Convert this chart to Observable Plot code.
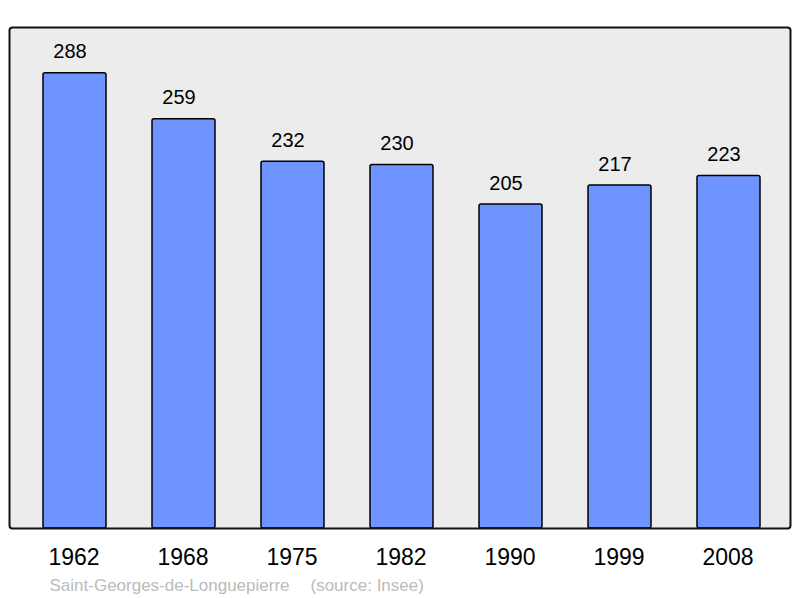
<!DOCTYPE html>
<html>
<head>
<meta charset="utf-8">
<script src="https://cdn.jsdelivr.net/npm/d3@7"></script>
<script src="https://cdn.jsdelivr.net/npm/@observablehq/plot@0.6"></script>
<style>
  html, body { margin: 0; padding: 0; background: #fff; }
  svg { display: block; }
</style>
</head>
<body>
<div id="chart"></div>
<script>
const years = ["1962", "1968", "1975", "1982", "1990", "1999", "2008"];
const population = [288, 259, 232, 230, 205, 217, 223];
const commune = "Saint-Georges-de-Longuepierre";
const source = "(source: Insee)";

const data = years.map((y, i) => ({year: y, pop: population[i]}));
const font = "'Liberation Sans', Arial, sans-serif";

const chart = Plot.plot({
  width: 800,
  height: 598,
  marginTop: 27,
  marginBottom: 70,
  marginLeft: 9,
  marginRight: 10,
  style: {fontFamily: font, background: "#fff"},
  x: {type: "band", domain: years, range: [42, 761.7], paddingInner: 0.424, paddingOuter: 0, axis: null},
  y: {domain: [0, 317], axis: null},
  marks: [
    Plot.frame({fill: "#ececec", stroke: "none", rx: 3}),
    Plot.barY(data, {x: "year", y: "pop", fill: "#7094ff", stroke: "#000", strokeWidth: 1.5, rx: 2}),
    Plot.frame({fill: "none", stroke: "#111", strokeWidth: 2, rx: 3}),
    Plot.text(data, {x: "year", y: "pop", text: d => String(d.pop), lineAnchor: "bottom", dx: -5, dy: -15, fontSize: 20, fill: "#000"}),
    Plot.text(years, {x: d => d, text: d => d, frameAnchor: "bottom", lineAnchor: "top", dx: -1, dy: 20, fontSize: 23, fill: "#000"}),
    Plot.text([commune], {text: d => d, frameAnchor: "bottom-left", textAnchor: "start", lineAnchor: "bottom", dx: 40, dy: 62, fontSize: 17, fill: "#bbbbbb"}),
    Plot.text([source], {text: d => d, frameAnchor: "bottom-left", textAnchor: "start", lineAnchor: "bottom", dx: 301, dy: 62, fontSize: 17, fill: "#bbbbbb"})
  ]
});
document.getElementById("chart").appendChild(chart);
</script>
</body>
</html>
